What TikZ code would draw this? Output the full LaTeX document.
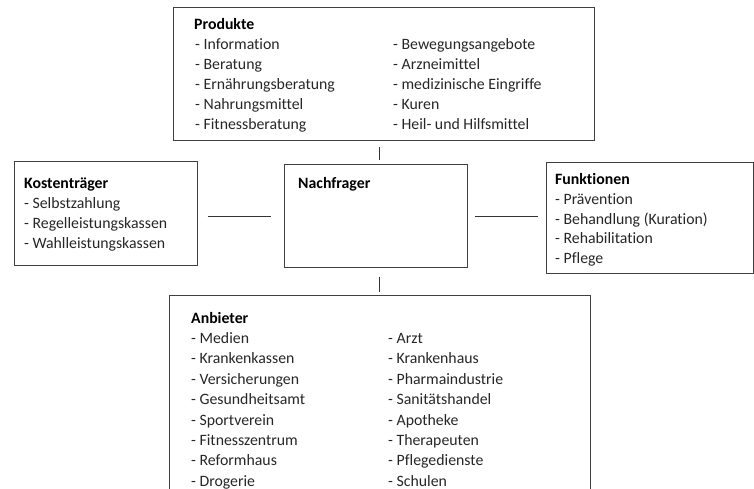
\documentclass[tikz,border=0pt]{standalone}
\usepackage{fontspec}
\setmainfont{Carlito}[Ligatures=NoCommon]
\tikzset{
	box/.style={draw=black!75, line width=1pt, inner sep=0pt},
	head/.style={anchor=base west, inner sep=0pt, font=\bfseries\fontsize{15.8}{20}\selectfont},
	item/.style={anchor=base west, inner sep=0pt, text=black!85, font=\fontsize{15.8}{20}\selectfont},
	link/.style={draw=black!80, line width=0.9pt}
}
\begin{document}
\begin{tikzpicture}[x=1pt,y=-1pt]
		\useasboundingbox (0,0) rectangle (754,489);
		
		%Produkte-Box
		\node[box, minimum width=421pt, minimum height=133pt] (Prod) at (383.5,74.5) {};
		\node[head] (P0) at (194,30) {Produkte};
		\foreach \t [count=\i] in {Information, Beratung, Ern\"ahrungsberatung, Nahrungsmittel, Fitnessberatung}
			\node[item] (P\i) at (195,30+20*\i) {- \t};
		\foreach \t [count=\i] in {Bewegungsangebote, Arzneimittel, medizinische Eingriffe, Kuren, Heil- und Hilfsmittel}
			\node[item] (Q\i) at (393,30+20*\i) {- \t};
		
		%Kostentraeger-Box
		\node[box, minimum width=183pt, minimum height=103pt] (Kost) at (105.5,213.5) {};
		\node[head] (K0) at (24,188) {Kostentr\"ager};
		\foreach \t [count=\i] in {Selbstzahlung, Regelleistungskassen, Wahlleistungskassen}
			\node[item] (K\i) at (24,188+20*\i) {- \t};
		
		%Nachfrager-Box
		\node[box, minimum width=183pt, minimum height=102pt] (Nach) at (375.5,216) {};
		\node[head] (N0) at (298,189) {Nachfrager};
		
		%Funktionen-Box
		\node[box, minimum width=207pt, minimum height=110pt] (Funk) at (649.5,218) {};
		\node[head] (F0) at (555,185) {Funktionen};
		\foreach \t [count=\i] in {Pr\"avention, Behandlung (Kuration), Rehabilitation, Pflege}
			\node[item] (F\i) at (555,185+19.5*\i) {- \t};
		
		%Anbieter-Box
		\node[box, minimum width=421pt, minimum height=215pt] (Anb) at (379.5,402.5) {};
		\node[head] (A0) at (191,323) {Anbieter};
		\foreach \t [count=\i] in {Medien, Krankenkassen, Versicherungen, Gesundheitsamt, Sportverein, Fitnesszentrum, Reformhaus, Drogerie}
			\node[item] (A\i) at (191,323+20.4*\i) {- \t};
		\foreach \t [count=\i] in {Arzt, Krankenhaus, Pharmaindustrie, Sanit\"atshandel, Apotheke, Therapeuten, Pflegedienste, Schulen}
			\node[item] (B\i) at (388,323+20.4*\i) {- \t};
		
		%Verbindungen
		\draw[link, shorten <=10pt, shorten >=13pt] (Kost.east |- Nach.west) -- (Nach.west);
		\draw[link, shorten <=7pt, shorten >=8pt] (Nach.east) -- (Nach.east -| Funk.west);
		\draw[link, shorten <=6pt, shorten >=4pt] (Anb.north |- Prod.south) -- (Anb.north |- Nach.north);
		\draw[link, shorten <=9pt, shorten >=3pt] (Anb.north |- Nach.south) -- (Anb.north);
		
	\end{tikzpicture}
\end{document}
